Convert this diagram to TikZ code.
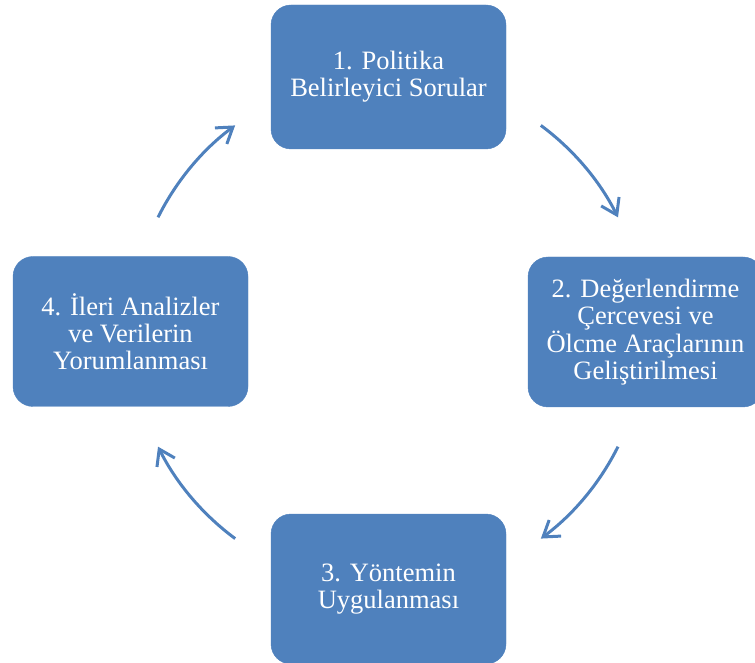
\documentclass[tikz,border=0pt]{standalone}
\usepackage{fontspec}
\setmainfont{Liberation Serif}
\usetikzlibrary{arrows.meta}
\definecolor{stepblue}{HTML}{4F81BD}
\begin{document}
\begin{tikzpicture}[x=1pt,y=1pt,
  stepbox/.style={rectangle, rounded corners=20pt, fill=stepblue, draw=stepblue,
    minimum width=235pt, minimum height=150pt, inner sep=0pt, align=center,
    text=white, font=\fontsize{26.5}{27}\selectfont},
  cyclearrow/.style={draw=stepblue, line width=3pt,
    -{Straight Barb[length=15pt,width=20pt,line width=3pt]}}]
  \useasboundingbox (0,0) rectangle (755,662);
  \clip (0,0) rectangle (755,662);
  % centre of the cycle
  \coordinate (c) at (388,330);
  % the four steps
  \node[stepbox, minimum height=144pt] (s1) at (388.5,585) {1. Politika\\Belirleyici Sorular};
  \node[stepbox] (s2) at (645.5,330) {2. Değerlendirme\\Çercevesi ve\\Ölcme Araçlarının\\Geliştirilmesi};
  \node[stepbox] (s3) at (388.5,73) {3. Yöntemin\\Uygulanması};
  \node[stepbox] (s4) at (130.5,330.5) {4. İleri Analizler\\ve Verilerin\\Yorumlanması};
  % curved arrows on a circle around the centre
  \draw[cyclearrow] (c) ++(53.5:257) arc[start angle=53.5, end angle=26.5, radius=257];
  \draw[cyclearrow] (c) ++(-26.5:257) arc[start angle=-26.5, end angle=-53.5, radius=257];
  \draw[cyclearrow] (c) ++(-126.5:257) arc[start angle=-126.5, end angle=-153.5, radius=257];
  \draw[cyclearrow] (c) ++(153.5:257) arc[start angle=153.5, end angle=126.5, radius=257];
\end{tikzpicture}
\end{document}
